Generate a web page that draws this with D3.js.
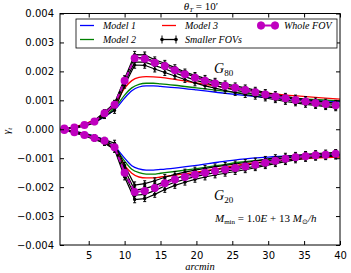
<!DOCTYPE html>
<html>
<head>
<meta charset="utf-8">
<script src="https://cdn.jsdelivr.net/npm/d3@7"></script>
<style>
  body { margin: 0; background: #fff; }
  .tick text { font-family: "DejaVu Sans", sans-serif; font-size: 10px; fill: #000; }
  .axis path, .axis line { stroke: #000; }
  .mt { font-family: "Liberation Serif", serif; font-style: italic; fill: #000; }
</style>
</head>
<body>
<svg id="chart" width="351" height="273"></svg>
<script>
// angular bins (arcmin)
var xs = [1.6, 3.0, 4.4, 5.8, 7.2, 8.6, 10.0, 11.4, 12.8, 14.2, 15.6, 17.0, 18.4, 19.8,
          21.2, 22.6, 24.0, 25.4, 26.8, 28.2, 29.6, 31.0, 32.4, 33.8, 35.2, 36.6, 38.0, 39.4];

// model curves sampled on a finer grid
var xm = [1, 2, 3, 4, 5, 6, 7, 8, 9, 10, 11, 12, 13, 14, 15, 17, 20, 23, 26, 30, 34, 37, 40];
var model1G80 = [0, 0.00002, 0.00006, 0.00012, 0.0002, 0.00028, 0.0004, 0.00056, 0.00078, 0.00108, 0.00133, 0.00146, 0.0015, 0.0015, 0.00148, 0.00144, 0.00136, 0.00127, 0.00119, 0.0011, 0.00103, 0.00099, 0.00095];
var model2G80 = [0, 0.00003, 0.00007, 0.00013, 0.00021, 0.0003, 0.00042, 0.0006, 0.00085, 0.00118, 0.00143, 0.00155, 0.00159, 0.00159, 0.00157, 0.00152, 0.00143, 0.00134, 0.00126, 0.00116, 0.00107, 0.00102, 0.00098];
var model3G80 = [0, 0.00003, 0.00008, 0.00015, 0.00024, 0.00034, 0.00048, 0.00068, 0.001, 0.00142, 0.00168, 0.00179, 0.00182, 0.00181, 0.00179, 0.00172, 0.0016, 0.00148, 0.00138, 0.00125, 0.00115, 0.00109, 0.00104];
var model1G20 = [0, -0.00003, -0.00007, -0.00012, -0.00018, -0.00026, -0.00035, -0.00049, -0.0007, -0.001, -0.00126, -0.00137, -0.00141, -0.00141, -0.00139, -0.00134, -0.00125, -0.00114, -0.00104, -0.00096, -0.00092, -0.0009, -0.00088];
var model2G20 = [0, -0.00003, -0.00007, -0.00013, -0.00019, -0.00027, -0.00037, -0.00052, -0.00076, -0.0011, -0.00138, -0.0015, -0.00155, -0.00155, -0.00152, -0.00146, -0.00136, -0.00125, -0.00114, -0.00104, -0.00097, -0.00094, -0.00092];
var model3G20 = [0, -0.00003, -0.00008, -0.00014, -0.0002, -0.00029, -0.0004, -0.00057, -0.00085, -0.00125, -0.00152, -0.00165, -0.00168, -0.00168, -0.00165, -0.00159, -0.00148, -0.00136, -0.00123, -0.00111, -0.00103, -0.00099, -0.00096];

// whole field of view
var wholeG80 = [0.00003, 0.00006, 0.00015, 0.00027, 0.00055, 0.00085, 0.00168, 0.00245, 0.00244, 0.0023, 0.00219, 0.00204, 0.0019, 0.00178, 0.00168, 0.00158, 0.0015, 0.00143, 0.00136, 0.00128, 0.0012, 0.00113, 0.00107, 0.00101, 0.00096, 0.00091, 0.00087, 0.00083];
var wholeG20 = [-0.00003, -0.0001, -0.0002, -0.0003, -0.0004, -0.00062, -0.0015, -0.00217, -0.00213, -0.00203, -0.00187, -0.00174, -0.00165, -0.00157, -0.0015, -0.00144, -0.00139, -0.00134, -0.00129, -0.00123, -0.00116, -0.00109, -0.00102, -0.00097, -0.00093, -0.0009, -0.00088, -0.00085];

// smaller fields of view
var smallG80 = [
  [0.00003, 0.00007, 0.00016, 0.0003, 0.0006, 0.0009, 0.00175, 0.00258, 0.00257, 0.0024, 0.00228, 0.00213, 0.00198, 0.00186, 0.00176, 0.00166, 0.00157, 0.0015, 0.00143, 0.00135, 0.00127, 0.0012, 0.00114, 0.00108, 0.00103, 0.00098, 0.00094, 0.0009],
  [0.00002, 0.00005, 0.00014, 0.00028, 0.00057, 0.00088, 0.0017, 0.00248, 0.00248, 0.00234, 0.00222, 0.00207, 0.00193, 0.00181, 0.0017, 0.0016, 0.00152, 0.00145, 0.00138, 0.0013, 0.00122, 0.00115, 0.00109, 0.00103, 0.00098, 0.00093, 0.00089, 0.00085],
  [0.00002, 0.00005, 0.00013, 0.00025, 0.0005, 0.0008, 0.00162, 0.00232, 0.00232, 0.0022, 0.00209, 0.00195, 0.00182, 0.0017, 0.0016, 0.00151, 0.00143, 0.00135, 0.00128, 0.00121, 0.00114, 0.00107, 0.00101, 0.00096, 0.00091, 0.00086, 0.00082, 0.00078],
  [0.00001, 0.00004, 0.00011, 0.00022, 0.00045, 0.00065, 0.00152, 0.00222, 0.00221, 0.00208, 0.00196, 0.00184, 0.00172, 0.0016, 0.0015, 0.00142, 0.00134, 0.00127, 0.0012, 0.00114, 0.00108, 0.00102, 0.00096, 0.00091, 0.00086, 0.00082, 0.00078, 0.00074]
];
var smallG20 = [
  [-0.00002, -0.00008, -0.00016, -0.00025, -0.00036, -0.00048, -0.00125, -0.00193, -0.00188, -0.00178, -0.00166, -0.00156, -0.00148, -0.00141, -0.00135, -0.0013, -0.00125, -0.0012, -0.00115, -0.0011, -0.00104, -0.00098, -0.00093, -0.0009, -0.00087, -0.00084, -0.00082, -0.0008],
  [-0.00003, -0.0001, -0.00019, -0.00029, -0.0004, -0.00057, -0.0014, -0.0021, -0.00205, -0.00195, -0.00181, -0.0017, -0.00161, -0.00153, -0.00146, -0.0014, -0.00135, -0.0013, -0.00125, -0.00119, -0.00112, -0.00105, -0.00099, -0.00095, -0.00091, -0.00088, -0.00086, -0.00084],
  [-0.00003, -0.00011, -0.00021, -0.00032, -0.00044, -0.00065, -0.00155, -0.00228, -0.00225, -0.00212, -0.00196, -0.00183, -0.00173, -0.00164, -0.00157, -0.0015, -0.00145, -0.0014, -0.00134, -0.00128, -0.00121, -0.00114, -0.00107, -0.00101, -0.00097, -0.00094, -0.00092, -0.0009],
  [-0.00004, -0.00012, -0.00023, -0.00035, -0.00048, -0.0007, -0.00165, -0.00243, -0.0024, -0.00225, -0.00208, -0.00194, -0.00183, -0.00173, -0.00165, -0.00158, -0.00152, -0.00146, -0.0014, -0.00133, -0.00126, -0.00119, -0.00112, -0.00106, -0.00101, -0.00097, -0.00095, -0.00093]
];
// error bar half-heights
var errSmall = [0.00003, 0.00004, 0.00005, 0.00006, 0.00008, 0.0001, 0.0001, 0.00011, 0.0001, 0.0001, 0.0001, 0.0001, 0.0001, 0.0001, 0.0001, 0.0001, 0.0001, 0.0001, 0.0001, 0.0001, 0.0001, 0.0001, 0.0001, 0.0001, 0.0001, 0.0001, 0.0001, 0.0001];
var errWhole = [0.00002, 0.00002, 0.00003, 0.00003, 0.00004, 0.00004, 0.00004, 0.00005, 0.00004, 0.00004, 0.00004, 0.00004, 0.00004, 0.00004, 0.00004, 0.00004, 0.00004, 0.00004, 0.00004, 0.00004, 0.00004, 0.00004, 0.00004, 0.00004, 0.00004, 0.00004, 0.00004, 0.00004];

var xTicks = [5, 10, 15, 20, 25, 30, 35, 40];
var yTicks = [-0.004, -0.003, -0.002, -0.001, 0, 0.001, 0.002, 0.003, 0.004];

var svg = d3.select("#chart");
// plot frame in pixels
var pL = 60, pR = 340, pT = 13.5, pB = 245;

var x = d3.scaleLinear().domain([1, 40]).range([pL, pR]);
var y = d3.scaleLinear().domain([-0.004, 0.004]).range([pB, pT]);

svg.append("clipPath").attr("id", "clip")
  .append("rect").attr("x", pL).attr("y", pT).attr("width", pR - pL).attr("height", pB - pT);

var plot = svg.append("g").attr("clip-path", "url(#clip)");

var line = d3.line().x(function(d){ return x(d[0]); }).y(function(d){ return y(d[1]); });
var smooth = d3.line().curve(d3.curveMonotoneX).x(function(d){ return x(d[0]); }).y(function(d){ return y(d[1]); });

function zip(a, b) { return a.map(function(v, i){ return [v, b[i]]; }); }

// errorbar series
function drawErr(vals, err, color, r, dash, width) {
  var g = plot.append("g");
  g.append("path").attr("d", line(zip(xs, vals)))
    .attr("fill", "none").attr("stroke", color).attr("stroke-width", width)
    .attr("stroke-dasharray", dash);
  xs.forEach(function(xv, i) {
    var y1 = y(vals[i] - err[i]), y2 = y(vals[i] + err[i]);
    g.append("line").attr("x1", x(xv)).attr("x2", x(xv)).attr("y1", y1).attr("y2", y2)
      .attr("stroke", color).attr("stroke-width", 1);
    g.append("line").attr("x1", x(xv) - 1.5).attr("x2", x(xv) + 1.5).attr("y1", y1).attr("y2", y1)
      .attr("stroke", color).attr("stroke-width", 1);
    g.append("line").attr("x1", x(xv) - 1.5).attr("x2", x(xv) + 1.5).attr("y1", y2).attr("y2", y2)
      .attr("stroke", color).attr("stroke-width", 1);
  });
  g.selectAll("circle").data(vals).enter().append("circle")
    .attr("cx", function(d, i){ return x(xs[i]); })
    .attr("cy", function(d){ return y(d); })
    .attr("r", r).attr("fill", color);
}

// models
var models = [
  [model1G80, "#0000ff"], [model2G80, "#008000"], [model3G80, "#ff0000"],
  [model1G20, "#0000ff"], [model2G20, "#008000"], [model3G20, "#ff0000"]
];
models.forEach(function(m) {
  plot.append("path").attr("d", smooth(zip(xm, m[0])))
    .attr("fill", "none").attr("stroke", m[1]).attr("stroke-width", 1.3);
});

smallG80.forEach(function(s){ drawErr(s, errSmall, "#000", 1.6, null, 1.2); });
smallG20.forEach(function(s){ drawErr(s, errSmall, "#000", 1.6, null, 1.2); });
drawErr(wholeG80, errWhole, "#bf00bf", 4, "5,3", 2);
drawErr(wholeG20, errWhole, "#bf00bf", 4, "5,3", 2);

// axes, ticks pointing inwards
svg.append("g").attr("class", "axis").attr("transform", "translate(0," + pB + ")")
  .call(d3.axisBottom(x).tickValues(xTicks).tickSize(-4).tickPadding(7).tickFormat(d3.format("d")))
  .call(function(g){ g.select(".domain").remove(); });
svg.append("g").attr("class", "axis").attr("transform", "translate(0," + pT + ")")
  .call(d3.axisTop(x).tickValues(xTicks).tickSize(-4).tickFormat(""))
  .call(function(g){ g.select(".domain").remove(); });
svg.append("g").attr("class", "axis").attr("transform", "translate(" + pL + ",0)")
  .call(d3.axisLeft(y).tickValues(yTicks).tickSize(-4).tickPadding(6).tickFormat(d3.format(".3f")))
  .call(function(g){ g.select(".domain").remove(); });
svg.append("g").attr("class", "axis").attr("transform", "translate(" + pR + ",0)")
  .call(d3.axisRight(y).tickValues(yTicks).tickSize(-4).tickFormat(""))
  .call(function(g){ g.select(".domain").remove(); });

svg.append("rect").attr("x", pL).attr("y", pT).attr("width", pR - pL).attr("height", pB - pT)
  .attr("fill", "none").attr("stroke", "#000").attr("stroke-width", 1);

// title
var title = svg.append("text").attr("class", "mt").attr("x", 201).attr("y", 10).attr("text-anchor", "middle").attr("font-size", 11);
title.append("tspan").text("θ");
title.append("tspan").attr("font-size", 7).attr("dy", 2).text("T");
title.append("tspan").attr("dy", -2).attr("font-style", "normal").text(" = 10′");

// axis labels
var ylab = svg.append("text").attr("class", "mt").attr("transform", "translate(10,131) rotate(-90)")
  .attr("text-anchor", "middle").attr("font-size", 11);
ylab.append("tspan").text("γ");
ylab.append("tspan").attr("font-size", 7).attr("dy", 2).text("t");
svg.append("text").attr("class", "mt").attr("x", 200).attr("y", 270).attr("text-anchor", "middle")
  .attr("font-size", 10.5).text("arcmin");

// annotations
function gLabel(px, py, sub) {
  var t = svg.append("text").attr("class", "mt").attr("x", px).attr("y", py).attr("font-size", 14);
  t.append("tspan").text("G");
  t.append("tspan").attr("font-size", 9).attr("font-style", "normal").attr("dy", 3).text(sub);
}
gLabel(214, 73, "80");
gLabel(214, 200, "20");

var mm = svg.append("text").attr("class", "mt").attr("x", 215).attr("y", 222).attr("font-size", 11);
mm.append("tspan").text("M");
mm.append("tspan").attr("font-size", 7).attr("font-style", "normal").attr("dy", 2).text("min");
mm.append("tspan").attr("dy", -2).attr("font-style", "normal").text(" = 1.0");
mm.append("tspan").text("E");
mm.append("tspan").attr("font-style", "normal").text(" + 13   ");
mm.append("tspan").text("M");
mm.append("tspan").attr("font-size", 7).attr("font-style", "normal").attr("dy", 2).text("⊙");
mm.append("tspan").attr("dy", -2).text("/h");

// legend
var legend = svg.append("g");
legend.append("rect").attr("x", 76).attr("y", 19).attr("width", 261).attr("height", 29)
  .attr("fill", "#fff").attr("stroke", "#000").attr("stroke-width", 0.8);

var legItems = [
  { label: "Model 1", color: "#0000ff", kind: "line", lx: 80, ty: 25.5 },
  { label: "Model 2", color: "#008000", kind: "line", lx: 80, ty: 39.5 },
  { label: "Model 3", color: "#ff0000", kind: "line", lx: 162, ty: 25.5 },
  { label: "Smaller FOVs", color: "#000", kind: "err", lx: 162, ty: 39.5 },
  { label: "Whole FOV", color: "#bf00bf", kind: "big", lx: 261, ty: 25.5 }
];
legItems.forEach(function(it) {
  var x0 = it.lx, x1 = it.lx + 14;
  legend.append("line").attr("x1", x0).attr("x2", x1).attr("y1", it.ty).attr("y2", it.ty)
    .attr("stroke", it.color).attr("stroke-width", it.kind == "big" ? 2 : 1.3);
  if (it.kind != "line") {
    [x0, x1].forEach(function(px) {
      var r = it.kind == "big" ? 4 : 1.8;
      legend.append("line").attr("x1", px).attr("x2", px).attr("y1", it.ty - 4).attr("y2", it.ty + 4)
        .attr("stroke", it.color).attr("stroke-width", 1);
      legend.append("circle").attr("cx", px).attr("cy", it.ty).attr("r", r).attr("fill", it.color);
    });
  }
  legend.append("text").attr("class", "mt").attr("x", x1 + 9).attr("y", it.ty + 3.5)
    .attr("font-size", 10).text(it.label);
});
</script>
</body>
</html>
